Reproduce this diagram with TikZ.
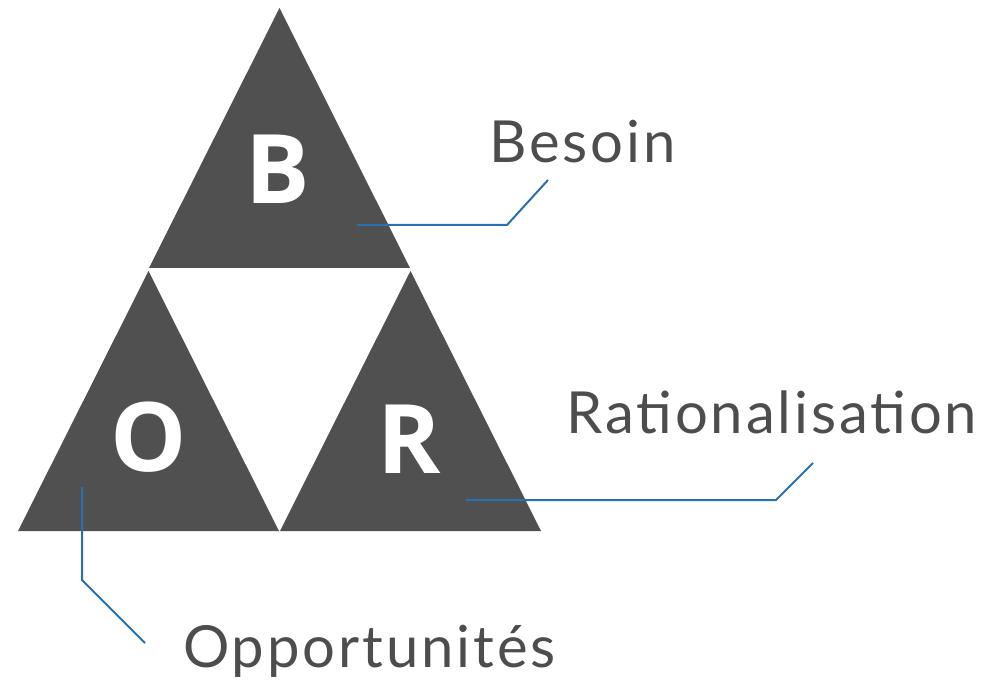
\documentclass[tikz,border=0pt]{standalone}
\usepackage{fontspec}
\setmainfont{Lato}
\newfontfamily\wordfont{Lato}[LetterSpace=5]
\newfontfamily\letterfont{Open Sans}
\usetikzlibrary{calc}
\definecolor{trigray}{HTML}{505050}
\definecolor{wordgray}{HTML}{4D4D4D}
\definecolor{leaderblue}{HTML}{2870B0}

\begin{document}
\begin{tikzpicture}[x=1pt,y=-1pt]
\tikzstyle{tri}=[fill=trigray, draw=none]
\tikzstyle{letter}=[inner sep=0pt, text=white, font=\letterfont\bfseries\fontsize{96}{96}\selectfont]
\tikzstyle{word}=[inner sep=0pt, anchor=base west, text=wordgray, font=\wordfont\fontsize{58}{60}\selectfont]
\tikzstyle{leader}=[draw=leaderblue, line width=2pt]

\useasboundingbox (0,0) rectangle (988,684);

% the three triangles
\fill[tri] (279.5,8) -- (410,268) -- (149,268) -- cycle;
\fill[tri] (148.5,271) -- (279,531) -- (18,531) -- cycle;
\fill[tri] (410.5,271) -- (541,531) -- (280,531) -- cycle;

\node[letter] (B) at (278,169) {B};
\node[letter] (O) at (149,437) {O};
\node[letter] (R) at (409,439) {R};

\node[word] (besoin) at (489,163) {Besoin};
\node[word] (ratio) at (566,433) {Rationalisation};
\node[word] (oppo) at (183,667) {Opportunités};

\coordinate (b-in) at (357,225);
\coordinate (b-bend) at (507,225);
\coordinate (b-out) at (548,180);
\coordinate (r-in) at (466,500);
\coordinate (r-bend) at (776,500);
\coordinate (r-out) at (813,463);
\coordinate (o-in) at (82,487);
\coordinate (o-bend) at (82,580);
\coordinate (o-out) at (145,643);

\draw[leader] (b-in) -- (b-bend) -- (b-out);
\draw[leader] (r-in) -- (r-bend) -- (r-out);
\draw[leader] (o-in) -- (o-bend) -- (o-out);
\end{tikzpicture}
\end{document}
